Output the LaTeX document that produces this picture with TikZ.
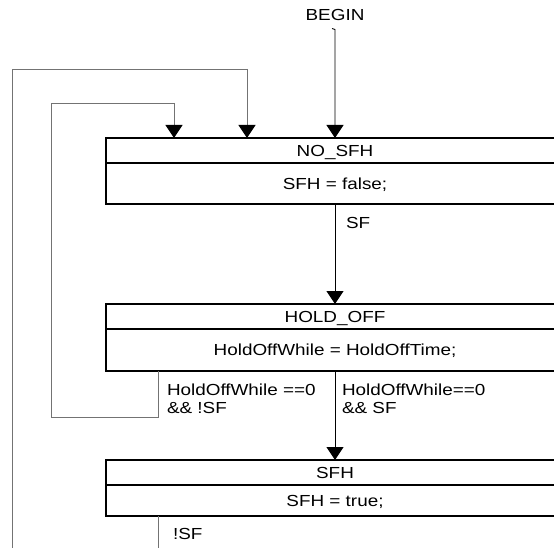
\documentclass[tikz,border=0pt]{standalone}
\usepackage{fontspec}
\setmainfont{Liberation Sans}[FakeStretch=1.18]
\usetikzlibrary{arrows.meta}
\begin{document}
\begin{tikzpicture}[x=1pt,y=-1pt,
  font=\fontsize{16}{18}\selectfont,
  row/.style={draw, line width=1.8pt, minimum width=458pt, inner sep=0pt, outer sep=0pt, text height=11.5pt, text depth=0pt},
  tipped/.style={-{Triangle[width=17pt,length=13pt,color=black]}},
  flow/.style={tipped, line width=0.9pt, draw=black},
  loopline/.style={line width=0.9pt, draw=black!55},
  lbl/.style={inner sep=0pt, outer sep=0pt, anchor=west, text height=11.5pt, text depth=0pt},
  lbltwo/.style={inner sep=0pt, outer sep=0pt, anchor=north west, align=left}]
\useasboundingbox (0,0) rectangle (554,548);
\clip (0,0) rectangle (554,548);

% states
\node[lbl, anchor=center] (begin) at (335,15) {BEGIN};
\node[row, minimum height=25pt] (nos) at (335,150.5) {NO\_SFH};
\node[row, minimum height=41pt, anchor=north] (nosb) at (nos.south) {SFH = false;};
\node[row, minimum height=25pt] (ho) at (335,316.5) {HOLD\_OFF};
\node[row, minimum height=42pt, anchor=north] (hob) at (ho.south) {HoldOffWhile = HoldOffTime;};
\node[row, minimum height=25pt] (sfh) at (335,472.5) {SFH};
\node[row, minimum height=31pt, anchor=north] (sfhb) at (sfh.south) {SFH = true;};

% labels
\node[lbl] (lsf) at (346,223) {SF};
\node[lbltwo] (lhold) at (167,384) {HoldOffWhile ==0\\\&\& !SF};
\node[lbltwo] (lgo) at (342,384) {HoldOffWhile==0\\\&\& SF};
\node[lbl] (lnsf) at (173,534) {!SF};

% coordinates
\coordinate (bh) at (332,28.5);
\coordinate (bt) at (335,29.5);
\coordinate (i0) at (158,371);
\coordinate (i2) at (51,417);
\coordinate (i4) at (174,103);
\coordinate (ia) at (174,138);
\coordinate (o0) at (12,560);
\coordinate (o2) at (247,69);
\coordinate (oa) at (247,138);
\coordinate (s0) at (158,516);
\coordinate (s1) at (158,560);

% connectors
\draw[flow] (bh) -- (bt) -- (nos.north);
\draw[flow] (nosb.south) -- (ho.north);
\draw[flow] (hob.south) -- (sfh.north);
\draw[loopline] (i0) |- (i2) |- (i4);
\draw[loopline, tipped] (i4) -- (ia);
\draw[loopline] (o0) |- (o2);
\draw[loopline, tipped] (o2) -- (oa);
\draw[loopline] (s0) -- (s1);
\end{tikzpicture}
\end{document}
